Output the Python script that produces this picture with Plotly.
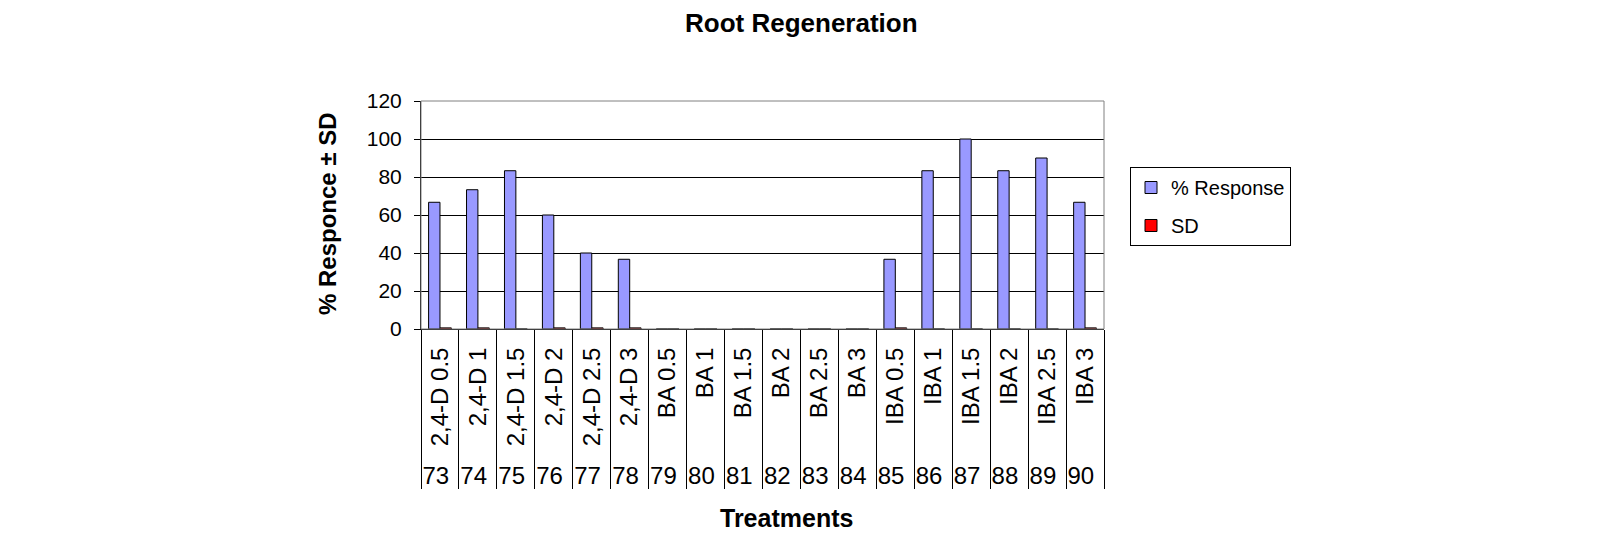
import plotly.graph_objects as go

codes = ["73", "74", "75", "76", "77", "78", "79", "80", "81", "82", "83", "84",
         "85", "86", "87", "88", "89", "90"]
treatments = ["2,4-D 0.5", "2,4-D 1", "2,4-D 1.5", "2,4-D 2", "2,4-D 2.5", "2,4-D 3",
              "BA 0.5", "BA 1", "BA 1.5", "BA 2", "BA 2.5", "BA 3",
              "IBA 0.5", "IBA 1", "IBA 1.5", "IBA 2", "IBA 2.5", "IBA 3"]
response = [66.7, 73.3, 83.3, 60.0, 40.0, 36.7, 0, 0, 0, 0, 0, 0,
            36.7, 83.3, 100.0, 83.3, 90.0, 66.7]
sd = [0.58, 0.58, 0, 0.58, 0.58, 0.58, 0, 0, 0, 0, 0, 0,
      0.58, 0, 0, 0, 0, 0.58]
y_ticks = [0, 20, 40, 60, 80, 100, 120]

FONT = "Liberation Sans, Arial, sans-serif"
W, H = 1614, 538
L, R, T, B = 413, 1096, 93, 321

fig = go.Figure()
fig.add_trace(go.Bar(
    x=[codes, treatments], y=response, name="% Response",
    marker=dict(color="#9999FF", line=dict(color="black", width=1)),
    legendgroup="a",
))
fig.add_trace(go.Bar(
    x=[codes, treatments], y=sd, name="SD",
    marker=dict(color="#FF0000", line=dict(color="black", width=1)),
    legendgroup="b",
))

pw, ph = R - L, B - T

def px(xp):
    return (xp - L) / pw

def py(yp):
    return (B - yp) / ph

fig.update_layout(
    width=W, height=H,
    margin=dict(l=L, r=W - R, t=T, b=H - B, autoexpand=False),
    paper_bgcolor="white", plot_bgcolor="white",
    font=dict(family=FONT, size=21, color="black"),
    barmode="group", bargap=0.4, bargroupgap=0,
    showlegend=True,
    legend=dict(
        x=px(1122), y=py(159), xanchor="left", yanchor="top",
        bordercolor="black", borderwidth=1, bgcolor="white",
        font=dict(family=FONT, size=20, color="black"),
        traceorder="grouped", tracegroupgap=9,
    ),
    xaxis=dict(
        type="multicategory",
        showline=True, linecolor="black", linewidth=1,
        ticks="", ticklabelstandoff=8,
        tickangle=-90,
        tickfont=dict(family=FONT, size=24, color="black"),
        showdividers=True, dividercolor="black", dividerwidth=1,
        showgrid=False, automargin=False,
    ),
    yaxis=dict(
        range=[0, 120], tickvals=y_ticks,
        showline=True, linecolor="black", linewidth=1,
        ticks="outside", ticklen=6, tickcolor="black",
        ticklabelstandoff=8,
        tickfont=dict(family=FONT, size=21, color="black"),
        showgrid=True, gridcolor="black", gridwidth=1,
        zeroline=False, automargin=False,
    ),
    shapes=[dict(type="rect", xref="paper", yref="paper", x0=0, x1=1, y0=0, y1=1,
                 line=dict(color="#808080", width=1), layer="above")],
    annotations=[
        dict(text="<b>Root Regeneration</b>", xref="paper", yref="paper",
             x=px(793), y=py(15), xanchor="center", yanchor="middle",
             showarrow=False, font=dict(family=FONT, size=26, color="black")),
        dict(text="<b>% Responce ± SD</b>", xref="paper", yref="paper",
             x=px(319), y=py(206), xanchor="center", yanchor="middle", textangle=-90,
             showarrow=False, font=dict(family=FONT, size=24, color="black")),
        dict(text="<b>Treatments</b>", xref="paper", yref="paper",
             x=px(778), y=py(510), xanchor="center", yanchor="middle",
             showarrow=False, font=dict(family=FONT, size=25, color="black")),
    ],
)

fig.write_html("out.html")
